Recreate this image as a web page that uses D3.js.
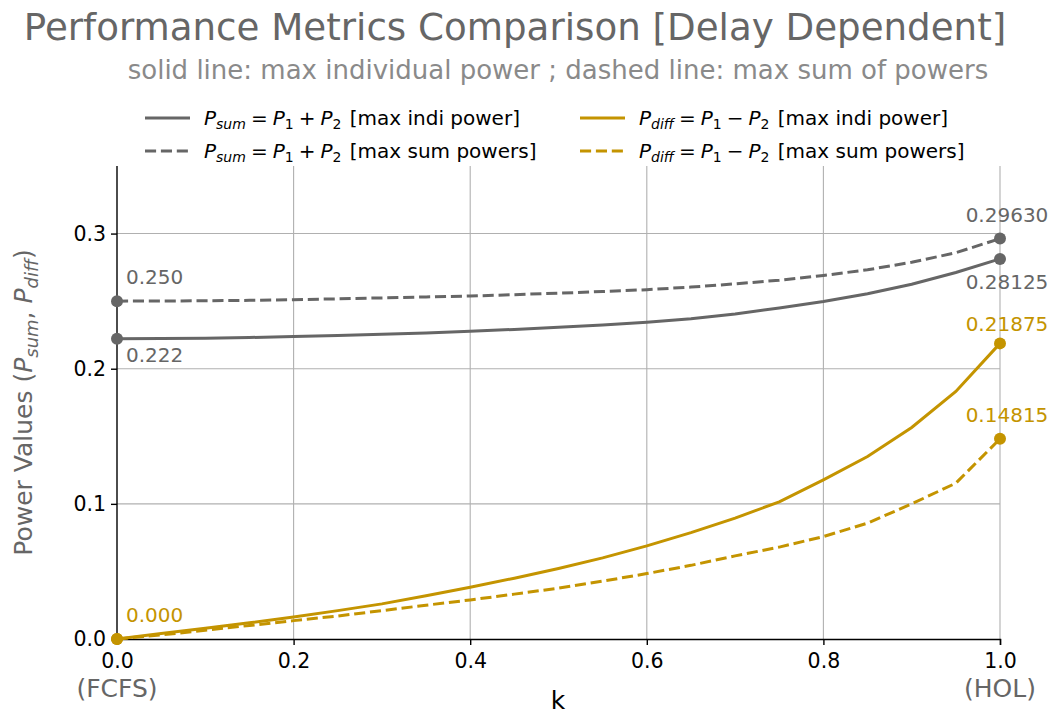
<!DOCTYPE html>
<html>
<head>
<meta charset="utf-8">
<script src="https://cdn.jsdelivr.net/npm/d3@7"></script>
<style>
  html, body { margin: 0; padding: 0; background: #fff; }
  svg { display: block; font-family: "DejaVu Sans", sans-serif; }
</style>
</head>
<body>
<svg id="chart" width="1053" height="714"></svg>
<script>
// k from 0 (FCFS) to 1 (HOL) in steps of 0.05
const kValues = [0, 0.05, 0.1, 0.15, 0.2, 0.25, 0.3, 0.35, 0.4, 0.45, 0.5,
                 0.55, 0.6, 0.65, 0.7, 0.75, 0.8, 0.85, 0.9, 0.95, 1.0];

// P_sum = P1 + P2, max individual power
const psumIndi = [0.2222, 0.2223, 0.2226, 0.2231, 0.2238, 0.2246, 0.2255, 0.2265, 0.2277, 0.2291, 0.2306,
                  0.2323, 0.2343, 0.2369, 0.2405, 0.2450, 0.2498, 0.2555, 0.2625, 0.2712, 0.28125];
// P_sum = P1 + P2, max sum of powers
const psumSum  = [0.2500, 0.2501, 0.2503, 0.2506, 0.2511, 0.2517, 0.2524, 0.2531, 0.2538, 0.2548, 0.2559,
                  0.2571, 0.2585, 0.2604, 0.2628, 0.2655, 0.2690, 0.2732, 0.2788, 0.2858, 0.29630];
// P_diff = P1 - P2, max individual power
const pdiffIndi = [0.0000, 0.0040, 0.0080, 0.0120, 0.0163, 0.0210, 0.0260, 0.0320, 0.0383, 0.0450, 0.0522,
                   0.0600, 0.0689, 0.0787, 0.0894, 0.1015, 0.1178, 0.1350, 0.1565, 0.1832, 0.21875];
// P_diff = P1 - P2, max sum of powers
const pdiffSum  = [0.0000, 0.0030, 0.0065, 0.0100, 0.0136, 0.0170, 0.0210, 0.0250, 0.0289, 0.0332, 0.0376,
                   0.0428, 0.0484, 0.0545, 0.0615, 0.0680, 0.0758, 0.0857, 0.1000, 0.1153, 0.14815];

const xTicks = [0, 0.2, 0.4, 0.6, 0.8, 1.0];
const yTicks = [0, 0.1, 0.2, 0.3];

const GRAY = "#666666";
const GOLD = "#c49400";

const svg = d3.select("#chart");
const margin = { left: 117, right: 53, top: 166, bottom: 75 };
const W = 1053, H = 714;

const x = d3.scaleLinear().domain([0, 1]).range([margin.left, W - margin.right]);
const y = d3.scaleLinear().domain([0, 0.35]).range([H - margin.bottom, margin.top]);

// Title and subtitle
svg.append("text").attr("x", 515).attr("y", 40).attr("text-anchor", "middle")
  .attr("font-size", 37.2).attr("fill", GRAY)
  .text("Performance Metrics Comparison [Delay Dependent]");
svg.append("text").attr("x", 558).attr("y", 79).attr("text-anchor", "middle")
  .attr("font-size", 26).attr("fill", "#8a8a8a")
  .text("solid line: max individual power ; dashed line: max sum of powers");

// Grid
const grid = svg.append("g").attr("stroke", "#b0b0b0").attr("stroke-width", 1.1);
xTicks.filter(d => d > 0).forEach(d => {
  grid.append("line").attr("x1", x(d)).attr("x2", x(d)).attr("y1", y(0)).attr("y2", y(0.35));
});
yTicks.filter(d => d > 0).forEach(d => {
  grid.append("line").attr("x1", x(0)).attr("x2", x(1)).attr("y1", y(d)).attr("y2", y(d));
});

// Axes
const xAxis = d3.axisBottom(x).tickValues(xTicks).tickFormat(d3.format(".1f")).tickSizeOuter(0).tickSize(6).tickPadding(8);
const yAxis = d3.axisLeft(y).tickValues(yTicks).tickFormat(d3.format(".1f")).tickSizeOuter(0).tickSize(6).tickPadding(5);

const gx = svg.append("g").attr("transform", `translate(0,${y(0)})`).call(xAxis);
const gy = svg.append("g").attr("transform", `translate(${x(0)},0)`).call(yAxis);
[gx, gy].forEach(g => {
  g.select(".domain").attr("stroke", "#000").attr("stroke-width", 1.4);
  g.selectAll(".tick line").attr("stroke", "#000").attr("stroke-width", 1.4);
  g.selectAll(".tick text").attr("font-size", 20.5).attr("fill", "#000")
    .attr("font-family", "DejaVu Sans, sans-serif");
});
gy.select(".domain").attr("d", `M0,${y(0)}V${y(0.35)}`);

// Endpoint names on the k axis
svg.append("text").attr("x", x(0)).attr("y", 697).attr("text-anchor", "middle")
  .attr("font-size", 25).attr("fill", GRAY).text("(FCFS)");
svg.append("text").attr("x", x(1)).attr("y", 697).attr("text-anchor", "middle")
  .attr("font-size", 25).attr("fill", GRAY).text("(HOL)");
svg.append("text").attr("x", 558).attr("y", 709).attr("text-anchor", "middle")
  .attr("font-size", 25).attr("fill", "#000").text("k");

// Y axis label with italic subscripted symbols
const yl = svg.append("text").attr("transform", `translate(32,${(y(0) + y(0.35)) / 2}) rotate(-90)`)
  .attr("text-anchor", "middle").attr("font-size", 25).attr("fill", GRAY);
yl.append("tspan").text("Power Values (");
yl.append("tspan").attr("font-style", "italic").text("P");
yl.append("tspan").attr("font-style", "italic").attr("font-size", 18).attr("dy", 6).text("sum");
yl.append("tspan").attr("dy", -6).text(", ");
yl.append("tspan").attr("font-style", "italic").text("P");
yl.append("tspan").attr("font-style", "italic").attr("font-size", 18).attr("dy", 6).text("diff");
yl.append("tspan").attr("dy", -6).text(")");

// Series
const series = [
  { vals: psumSum,   color: GRAY, dash: "11.1,4.8" },
  { vals: psumIndi,  color: GRAY, dash: null },
  { vals: pdiffSum,  color: GOLD, dash: "11.1,4.8" },
  { vals: pdiffIndi, color: GOLD, dash: null }
];
const line = d3.line().x((d, i) => x(kValues[i])).y(d => y(d));
series.forEach(s => {
  svg.append("path").datum(s.vals).attr("d", line).attr("fill", "none")
    .attr("stroke", s.color).attr("stroke-width", 3)
    .attr("stroke-dasharray", s.dash);
});
series.forEach(s => {
  const n = s.vals.length - 1;
  [0, n].forEach(i => {
    svg.append("circle").attr("cx", x(kValues[i])).attr("cy", y(s.vals[i])).attr("r", 6)
      .attr("fill", s.color);
  });
});

// Value annotations at both ends
const ann = [
  { v: psumSum[0],    txt: psumSum[0].toFixed(3),    k: 0, dy: -17, anchor: "start", color: GRAY },
  { v: psumIndi[0],   txt: psumIndi[0].toFixed(3),   k: 0, dy: 23,  anchor: "start", color: GRAY },
  { v: pdiffIndi[0],  txt: pdiffIndi[0].toFixed(3),  k: 0, dy: -17, anchor: "start", color: GOLD },
  { v: psumSum[20],   txt: psumSum[20].toFixed(5),   k: 1, dy: -17, anchor: "middle", color: GRAY },
  { v: psumIndi[20],  txt: psumIndi[20].toFixed(5),  k: 1, dy: 30,  anchor: "middle", color: GRAY },
  { v: pdiffIndi[20], txt: pdiffIndi[20].toFixed(5), k: 1, dy: -12, anchor: "middle", color: GOLD },
  { v: pdiffSum[20],  txt: pdiffSum[20].toFixed(5),  k: 1, dy: -17, anchor: "middle", color: GOLD }
];
ann.forEach(a => {
  svg.append("text").attr("x", x(a.k) + (a.k === 0 ? 9 : 7)).attr("y", y(a.v) + a.dy)
    .attr("text-anchor", a.anchor).attr("font-size", 20).attr("fill", a.color).text(a.txt);
});

// Legend
const legendItems = [
  { col: 0, row: 0, color: GRAY, dash: null,       sub: "sum",  op: "+", note: "max indi power" },
  { col: 0, row: 1, color: GRAY, dash: "11.1,4.8", sub: "sum",  op: "+", note: "max sum powers" },
  { col: 1, row: 0, color: GOLD, dash: null,       sub: "diff", op: "\u2212", note: "max indi power" },
  { col: 1, row: 1, color: GOLD, dash: "11.1,4.8", sub: "diff", op: "\u2212", note: "max sum powers" }
];
const lg = svg.append("g");
legendItems.forEach(it => {
  const lx = it.col === 0 ? 145 : 580;
  const ly = it.row === 0 ? 118 : 151;
  lg.append("line").attr("x1", lx).attr("x2", lx + 45).attr("y1", ly).attr("y2", ly)
    .attr("stroke", it.color).attr("stroke-width", 3).attr("stroke-dasharray", it.dash);
  const t = lg.append("text").attr("x", lx + 59).attr("y", ly + 7).attr("font-size", 20).attr("fill", "#000");
  t.append("tspan").attr("font-style", "italic").text("P");
  t.append("tspan").attr("font-style", "italic").attr("font-size", 14).attr("dy", 4).text(it.sub);
  t.append("tspan").attr("dy", -4).attr("dx", 5).text("=");
  t.append("tspan").attr("dx", 5).attr("font-style", "italic").text("P");
  t.append("tspan").attr("font-size", 14).attr("dy", 4).text("1");
  t.append("tspan").attr("dy", -4).attr("dx", 5).text(it.op);
  t.append("tspan").attr("dx", 5).attr("font-style", "italic").text("P");
  t.append("tspan").attr("font-size", 14).attr("dy", 4).text("2");
  t.append("tspan").attr("dy", -4).attr("dx", 2).text(" [" + it.note + "]");
});
</script>
</body>
</html>
